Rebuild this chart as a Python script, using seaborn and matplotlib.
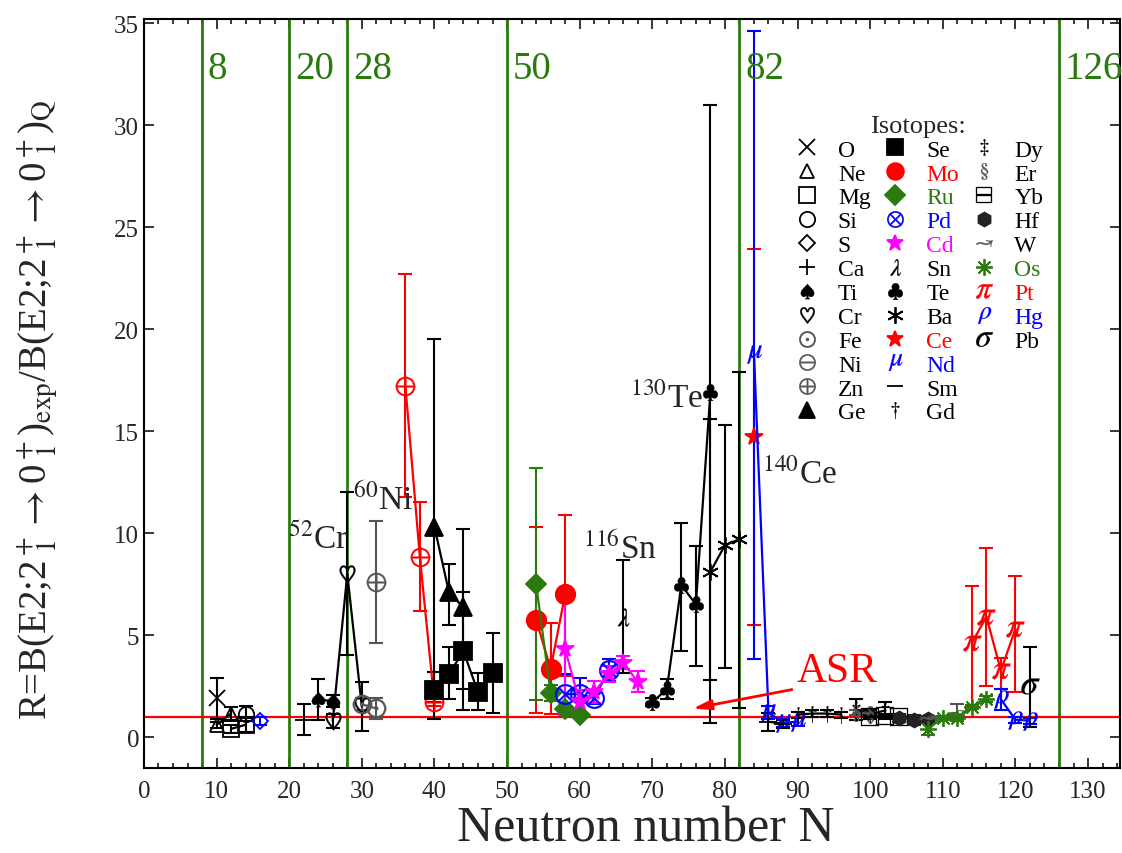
import numpy as np
import pandas as pd
import seaborn as sns
import matplotlib.pyplot as plt
from matplotlib.lines import Line2D

sns.set_theme(style='ticks')
plt.rcParams['font.family'] = ['Liberation Serif', 'DejaVu Serif']
plt.rcParams['mathtext.fontset'] = 'stix'

# ---- data: N, R, lower err, upper err ----
N_O, R_O, lo_O, hi_O = [10], [1.9], [1.0], [1.0]
N_Ne, R_Ne, lo_Ne, hi_Ne = [10, 12], [0.6, 1.15], [0.15, 0.3], [0.15, 0.3]
N_Mg, R_Mg, lo_Mg, hi_Mg = [12, 14], [0.4, 0.6], [0.2, 0.35], [0.2, 0.35]
N_Si, R_Si, lo_Si, hi_Si = [14], [1.15], [0.35], [0.35]
N_S, R_S, lo_S, hi_S = [16], [0.8], [0.2], [0.2]
N_Ca, R_Ca, lo_Ca, hi_Ca = [22], [0.85], [0.75], [0.75]
N_Ti, R_Ti, lo_Ti, hi_Ti = [24, 26], [1.85, 1.75], [1.0, 0.3], [1.0, 0.3]
N_Cr, R_Cr, lo_Cr, hi_Cr = [26, 28, 30], [0.8, 8.0, 1.5], [0.35, 4.0, 1.2], [0.35, 4.0, 1.2]
N_Fe, R_Fe, lo_Fe, hi_Fe = [30, 32], [1.6, 1.4], [0.3, 0.5], [0.3, 0.5]
N_Ni, R_Ni, lo_Ni, hi_Ni = [32], [7.6], [3.0], [3.0]
N_Zn, R_Zn, lo_Zn, hi_Zn = [36, 38, 40], [17.2, 8.8, 1.7], [5.45, 2.6, 0.2], [5.5, 2.7, 0.2]
N_Ge, R_Ge, lo_Ge, hi_Ge = [40, 42, 44], [10.3, 7.1, 6.35], [9.4, 1.6, 5.05], [9.2, 1.4, 3.85]
N_Se, R_Se = [40, 42, 44, 46, 48], [2.3, 3.1, 4.2, 2.2, 3.15]
lo_Se, hi_Se = [0.6, 1.25, 1.85, 0.9, 1.95], [0.9, 1.3, 2.9, 0.95, 1.95]
N_Mo, R_Mo, lo_Mo, hi_Mo = [54, 56, 58], [5.75, 3.35, 7.0], [4.55, 2.2, 4.0], [4.55, 2.25, 3.9]
N_Ru, R_Ru = [54, 56, 58, 60], [7.5, 2.15, 1.35, 1.1]
lo_Ru, hi_Ru = [5.7, 0.4, 0.15, 0.1], [5.7, 0.4, 0.15, 0.1]
N_Pd, R_Pd = [58, 60, 62, 64], [2.1, 2.1, 1.9, 3.3]
lo_Pd, hi_Pd = [1.0, 0.9, 0.3, 0.55], [1.0, 0.8, 0.3, 0.5]
N_Cd, R_Cd = [58, 60, 62, 64, 66, 68], [4.3, 1.7, 2.2, 3.1, 3.65, 2.7]
lo_Cd, hi_Cd = [3.2, 0.6, 0.55, 0.4, 0.3, 0.5], [2.5, 0.6, 0.55, 0.4, 0.3, 0.55]
N_Sn, R_Sn, lo_Sn, hi_Sn = [66], [5.9], [2.75], [2.8]
N_Te, R_Te = [70, 72, 74, 76, 78], [1.7, 2.35, 7.45, 6.5, 16.9]
lo_Te, hi_Te = [0.2, 0.5, 3.25, 3.0, 16.2], [0.2, 0.5, 3.05, 2.85, 14.1]
N_Ba, R_Ba, lo_Ba, hi_Ba = [78, 80, 82], [8.1, 9.4, 9.7], [5.3, 6.0, 8.3], [7.5, 5.9, 8.2]
N_Ce, R_Ce, lo_Ce, hi_Ce = [84], [14.7], [9.2], [9.2]
N_Nd, R_Nd = [84, 86, 88, 90], [18.8, 1.2, 0.7, 0.75]
lo_Nd, hi_Nd = [15.0, 0.3, 0.2, 0.2], [15.8, 0.3, 0.2, 0.2]
N_Sm, R_Sm, lo_Sm, hi_Sm = [86, 88], [0.75, 0.65], [0.45, 0.2], [0.45, 0.2]
N_Gd, R_Gd = [90, 92, 94, 96], [1.1, 1.15, 1.15, 1.1]
lo_Gd, hi_Gd = [0.15, 0.15, 0.15, 0.15], [0.15, 0.15, 0.15, 0.15]
N_Dy, R_Dy, lo_Dy, hi_Dy = [98, 100, 102], [1.35, 1.1, 1.3], [0.5, 0.2, 0.4], [0.5, 0.2, 0.4]
N_Er, R_Er, lo_Er, hi_Er = [98, 100], [1.2, 1.15], [0.1, 0.1], [0.1, 0.1]
N_Yb, R_Yb, lo_Yb, hi_Yb = [100, 102, 104], [1.0, 1.05, 1.0], [0.1, 0.1, 0.1], [0.1, 0.1, 0.1]
N_Hf, R_Hf, lo_Hf, hi_Hf = [104, 106, 108], [0.95, 0.85, 0.9], [0.2, 0.25, 0.15], [0.2, 0.25, 0.15]
N_W, R_W, lo_W, hi_W = [108, 110, 112], [0.95, 0.95, 1.2], [0.1, 0.1, 0.4], [0.1, 0.1, 0.4]
N_Os, R_Os = [108, 110, 112, 114, 116], [0.4, 0.95, 0.95, 1.45, 1.85]
lo_Os, hi_Os = [0.3, 0.1, 0.1, 0.1, 0.15], [0.3, 0.1, 0.1, 0.1, 0.15]
N_Pt, R_Pt = [114, 116, 118, 120], [4.6, 5.9, 3.25, 5.3]
lo_Pt, hi_Pt = [3.1, 3.4, 0.9, 3.1], [2.8, 3.35, 0.6, 2.6]
N_Hg, R_Hg, lo_Hg, hi_Hg = [118, 120, 122], [1.85, 0.85, 0.8], [0.55, 0.15, 0.15], [0.5, 0.15, 0.15]
N_Pb, R_Pb, lo_Pb, hi_Pb = [122], [2.5], [2.0], [1.9]

magic = [8, 20, 28, 50, 82, 126]

GREEN = '#2a7a0e'
GRAY = '#555555'

# label, data, marker, colour, markersize, filled
series = [
    ('O', (N_O, R_O, lo_O, hi_O), 'x', 'black', 11, True),
    ('Ne', (N_Ne, R_Ne, lo_Ne, hi_Ne), '^', 'black', 10, False),
    ('Mg', (N_Mg, R_Mg, lo_Mg, hi_Mg), 's', 'black', 11, False),
    ('Si', (N_Si, R_Si, lo_Si, hi_Si), 'o', 'black', 11, False),
    ('S', (N_S, R_S, lo_S, hi_S), 'D', 'blue', 8, False),
    ('Ca', (N_Ca, R_Ca, lo_Ca, hi_Ca), '+', 'black', 13, True),
    ('Ti', (N_Ti, R_Ti, lo_Ti, hi_Ti), r'$\spadesuit$', 'black', 11, True),
    ('Cr', (N_Cr, R_Cr, lo_Cr, hi_Cr), r'$\heartsuit$', 'black', 13, True),
    ('Fe', (N_Fe, R_Fe, lo_Fe, hi_Fe), r'$\odot$', GRAY, 14, True),
    ('Ni', (N_Ni, R_Ni, lo_Ni, hi_Ni), r'$\oplus$', GRAY, 14, True),
    ('Zn', (N_Zn, R_Zn, lo_Zn, hi_Zn), r'$\oplus$', 'red', 14, True),
    ('Ge', (N_Ge, R_Ge, lo_Ge, hi_Ge), '^', 'black', 13, True),
    ('Se', (N_Se, R_Se, lo_Se, hi_Se), 's', 'black', 13, True),
    ('Mo', (N_Mo, R_Mo, lo_Mo, hi_Mo), 'o', 'red', 14, True),
    ('Ru', (N_Ru, R_Ru, lo_Ru, hi_Ru), 'D', GREEN, 10, True),
    ('Pd', (N_Pd, R_Pd, lo_Pd, hi_Pd), r'$\otimes$', 'blue', 15, True),
    ('Cd', (N_Cd, R_Cd, lo_Cd, hi_Cd), '*', 'magenta', 13, True),
    ('Sn', (N_Sn, R_Sn, lo_Sn, hi_Sn), r'$\lambda$', 'black', 13, True),
    ('Te', (N_Te, R_Te, lo_Te, hi_Te), r'$\clubsuit$', 'black', 12, True),
    ('Ba', (N_Ba, R_Ba, lo_Ba, hi_Ba), (6, 2, 0), 'black', 12, True),
    ('Ce', (N_Ce, R_Ce, lo_Ce, hi_Ce), '*', 'red', 13, True),
    ('Nd', (N_Nd, R_Nd, lo_Nd, hi_Nd), r'$\mu$', 'blue', 13, True),
    ('Sm', (N_Sm, R_Sm, lo_Sm, hi_Sm), '_', 'black', 13, True),
    ('Gd', (N_Gd, R_Gd, lo_Gd, hi_Gd), r'$\dagger$', 'black', 12, True),
    ('Dy', (N_Dy, R_Dy, lo_Dy, hi_Dy), r'$\ddagger$', 'black', 12, True),
    ('Er', (N_Er, R_Er, lo_Er, hi_Er), r'$\S$', GRAY, 12, True),
    ('Yb', (N_Yb, R_Yb, lo_Yb, hi_Yb), r'$\boxminus$', 'black', 13, True),
    ('Hf', (N_Hf, R_Hf, lo_Hf, hi_Hf), 'h', '#222222', 10, True),
    ('W', (N_W, R_W, lo_W, hi_W), r'$\rightsquigarrow$', GRAY, 13, True),
    ('Os', (N_Os, R_Os, lo_Os, hi_Os), (8, 2, 0), GREEN, 12, True),
    ('Pt', (N_Pt, R_Pt, lo_Pt, hi_Pt), r'$\pi$', 'red', 13, True),
    ('Hg', (N_Hg, R_Hg, lo_Hg, hi_Hg), r'$\rho$', 'blue', 13, True),
    ('Pb', (N_Pb, R_Pb, lo_Pb, hi_Pb), r'$\sigma$', 'black', 13, True),
]
legend_marker = {'S': 'black', 'Ni': GRAY, 'Zn': GRAY}
legend_symbol = {'Ni': r'$\ominus$', 'Zn': r'$\oplus$'}

fig = plt.figure(figsize=(11.22, 8.54), dpi=100)
ax = fig.add_axes([0.1283, 0.1, 0.8699, 0.8766])

for x in magic:
    ax.axvline(x, color=GREEN, lw=2, zorder=1)
    ax.text(x + 0.8, 32.75, str(x), color=GREEN, fontsize=28, va='center', ha='left')

ax.axhline(1, color='red', lw=1.6, zorder=1.5)

handles, labels = [], []
for name, (N, R, lo, hi), m, c, ms, filled in series:
    mew = 0.2 if isinstance(m, str) and m.startswith('$') else 1.3
    ax.errorbar(N, R, yerr=[lo, hi], fmt='none', ecolor=c, elinewidth=1.5,
                capsize=5, capthick=1.5, zorder=2)
    sns.lineplot(x=N, y=R, ax=ax, color=c, marker=m, markersize=ms,
                 markerfacecolor=c if filled else 'none', markeredgecolor=c,
                 markeredgewidth=mew, linewidth=1.6, legend=False, zorder=3)
    lc = legend_marker.get(name, c)
    lm = legend_symbol.get(name, m)
    handles.append(Line2D([], [], ls='none', marker=lm, color=lc,
                          markersize=ms if ms < 13 else 12,
                          markerfacecolor=lc if filled else 'none',
                          markeredgecolor=lc, markeredgewidth=mew))
    labels.append(name)

# pad to 12 rows per column
for _ in range(3):
    handles.append(Line2D([], [], ls='none'))
    labels.append('')

leg = ax.legend(handles, labels, ncol=3, loc='upper left', bbox_to_anchor=(0.665, 0.872),
                frameon=False, fontsize=17, title='Isotopes:', title_fontsize=19,
                handlelength=1.2, handletextpad=0.7, columnspacing=0.45,
                labelspacing=0.1, borderaxespad=0, borderpad=0)
text_col = {'Mo': 'red', 'Ru': GREEN, 'Pd': 'blue', 'Cd': 'magenta', 'Ce': 'red',
            'Nd': 'blue', 'Os': GREEN, 'Pt': 'red', 'Hg': 'blue'}
for t in leg.get_texts():
    t.set_color(text_col.get(t.get_text(), 'black'))

# isotope annotations
ax.text(24.0, 9.7, r'$^{52}$Cr', fontsize=24, ha='center', va='center')
ax.text(32.9, 11.7, r'$^{60}$Ni', fontsize=24, ha='center', va='center')
ax.text(65.6, 9.3, r'$^{116}$Sn', fontsize=24, ha='center', va='center')
ax.text(72.0, 16.6, r'$^{130}$Te', fontsize=24, ha='center', va='center')
ax.text(90.3, 12.9, r'$^{140}$Ce', fontsize=24, ha='center', va='center')

ax.text(95.5, 3.25, 'ASR', color='red', fontsize=30, ha='center', va='center')
ax.annotate('', xy=(75.2, 1.37), xytext=(89.6, 2.35),
            arrowprops=dict(arrowstyle='-|>,head_length=0.9,head_width=0.25',
                            color='red', lw=2))

ax.set_xlim(0, 134.4)
ax.set_ylim(-1.5, 35.2)
ax.set_xticks(np.arange(0, 131, 10))
ax.set_xticks(np.arange(0, 135, 2), minor=True)
ax.set_yticks(np.arange(0, 36, 5))
ax.tick_params(which='both', direction='in', top=True, right=True, labelsize=18, width=1.3)
ax.tick_params(which='major', length=7)
ax.tick_params(axis='x', which='major', pad=9)
ax.tick_params(which='minor', length=3.5)
for sp in ax.spines.values():
    sp.set_linewidth(1.5)
    sp.set_color('black')

ax.set_xlabel('Neutron number N', fontsize=36)
ax.set_ylabel(r'R=B(E2;2$^+_{\ 1}$$\rightarrow$0$^+_{\ 1}$)$_{\rm exp}$/B(E2;2$^+_{\ 1}$$\rightarrow$0$^+_{\ 1}$)$_{\rm Q}$',
              fontsize=28)
ax.xaxis.set_label_coords(0.514, -0.05)
ax.xaxis.label.set_va('top')
ax.yaxis.set_label_coords(-0.085, 0.48)

fig.savefig('out.png', dpi=100)
